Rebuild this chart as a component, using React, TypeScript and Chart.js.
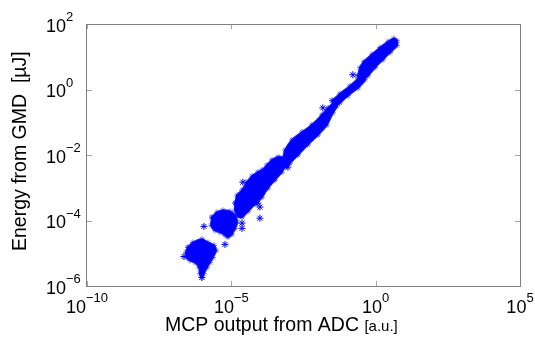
import React, { useEffect, useRef } from "react";
import { Chart, registerables } from "chart.js";

Chart.register(...registerables);

// All point values below are log10(x), log10(y) pairs.
// Dense shot clusters (outlines of the filled regions of asterisks)
const cluster1: [number, number][] = [
  [-6.5, -4.82], [-6.33, -4.67], [-6.02, -4.57], [-5.81, -4.67], [-5.6, -4.76],
  [-5.53, -4.91], [-5.64, -5.13], [-5.74, -5.28], [-5.84, -5.43], [-5.95, -5.62],
  [-6.02, -5.74], [-6.09, -5.62], [-6.12, -5.43], [-6.26, -5.28], [-6.43, -5.22],
  [-6.54, -5.13], [-6.57, -4.97],
];
const cluster2: [number, number][] = [
  [-5.67, -3.9], [-5.5, -3.75], [-5.29, -3.69], [-5.05, -3.72], [-4.87, -3.84],
  [-4.8, -4.05], [-4.87, -4.24], [-4.98, -4.42], [-5.12, -4.51], [-5.22, -4.45],
  [-5.39, -4.36], [-5.57, -4.3], [-5.7, -4.15],
];
const cluster3: [number, number][] = [
  [-4.87, -3.47], [-4.8, -3.23], [-4.63, -3.07], [-4.46, -2.83], [-4.28, -2.64],
  [-4.08, -2.52], [-3.94, -2.46], [-3.77, -2.31], [-3.59, -2.15], [-3.38, -2.06],
  [-3.21, -2.09], [-3.11, -2.25], [-3.25, -2.52], [-3.49, -2.77], [-3.73, -3.01],
  [-3.94, -3.29], [-4.18, -3.5], [-4.42, -3.72], [-4.63, -3.9], [-4.77, -3.87],
  [-4.87, -3.69],
];
const cluster4: [number, number][] = [
  [-3.21, -2.15], [-3.14, -1.85], [-2.9, -1.54], [-2.55, -1.3], [-2.21, -1.08],
  [-1.86, -0.77], [-1.65, -0.56], [-1.44, -0.41], [-1.34, -0.5], [-1.48, -0.71],
  [-1.69, -1.08], [-2.0, -1.39], [-2.35, -1.69], [-2.69, -2.0], [-2.97, -2.25],
  [-3.11, -2.37],
];
const cluster5: [number, number][] = [
  [-1.51, -0.34], [-1.24, -0.13], [-0.89, 0.11], [-0.61, 0.33], [-0.47, 0.42],
  [-0.37, 0.3], [-0.61, 0.05], [-0.96, -0.19], [-1.24, -0.41], [-1.41, -0.5],
];
const cluster6: [number, number][] = [
  [-0.61, 0.42], [-0.54, 0.67], [-0.41, 0.85], [-0.13, 1.07], [0.15, 1.28],
  [0.43, 1.46], [0.63, 1.56], [0.74, 1.49], [0.74, 1.34], [0.5, 1.13],
  [0.25, 0.91], [-0.02, 0.67], [-0.27, 0.42], [-0.47, 0.3],
];
// Isolated shots
const strayShots: [number, number][] = [
  [-6.64, -5.1], [-5.95, -4.18], [-5.22, -4.73], [-4.63, -4.24], [-4.63, -4.08],
  [-4.01, -3.93], [-4.6, -2.83], [-4.08, -3.47], [-4.01, -3.59], [-3.04, -2.37],
  [-1.83, -0.56], [-0.79, 0.45], [-6.02, -5.74],
];

const xTickExps = [-10, -5, 0, 5];
const yTickExps = [-6, -4, -2, 0, 2];
const xTitle = "MCP output from ADC";
const xUnit = "[a.u.]";
const yTitle = "Energy from GMD  [\u00b5J]";

const BLUE = "#0000ff";
const FONT = '"Liberation Sans", Arial, Helvetica, sans-serif';

const toPts = (arr: [number, number][], close = false) => {
  const pts = arr.map(([lx, ly]) => ({ x: Math.pow(10, lx), y: Math.pow(10, ly) }));
  if (close) pts.push({ ...pts[0] });
  return pts;
};

const expStr = (e: number) => (e < 0 ? "\u2212" + Math.abs(e) : String(e));

const axesPlugin = {
  id: "matlabAxes",
  afterDraw(chart: any) {
    const { ctx, chartArea } = chart;
    const xs = chart.scales.x;
    const ys = chart.scales.y;
    const { left, right, top, bottom } = chartArea;
    ctx.save();
    // ticks
    ctx.strokeStyle = "#a8a8a8";
    ctx.lineWidth = 1;
    ctx.beginPath();
    xTickExps.forEach((e) => {
      const px = Math.round(xs.getPixelForValue(Math.pow(10, e))) + 0.5;
      ctx.moveTo(px, bottom);
      ctx.lineTo(px, bottom - 5);
      ctx.moveTo(px, top);
      ctx.lineTo(px, top + 5);
    });
    yTickExps.forEach((e) => {
      const py = Math.round(ys.getPixelForValue(Math.pow(10, e))) + 0.5;
      ctx.moveTo(left, py);
      ctx.lineTo(left + 5, py);
      ctx.moveTo(right, py);
      ctx.lineTo(right - 5, py);
    });
    ctx.stroke();
    // box
    ctx.strokeStyle = "#808080";
    ctx.strokeRect(Math.round(left) - 0.5, Math.round(top) + 0.5, Math.round(right - left) + 1, Math.round(bottom - top));

    // tick labels
    ctx.fillStyle = "#000";
    ctx.textBaseline = "alphabetic";
    ctx.textAlign = "left";
    const big = `18px ${FONT}`;
    const small = `13px ${FONT}`;
    xTickExps.forEach((e) => {
      const px = xs.getPixelForValue(Math.pow(10, e));
      ctx.font = big;
      const w10 = ctx.measureText("10").width;
      ctx.font = small;
      const we = ctx.measureText(expStr(e)).width;
      const x0 = px - (w10 + we) / 2;
      const base = bottom + 26.5;
      ctx.font = big;
      ctx.fillText("10", x0, base);
      ctx.font = small;
      ctx.fillText(expStr(e), x0 + w10, base - 11);
    });
    yTickExps.forEach((e) => {
      const py = ys.getPixelForValue(Math.pow(10, e));
      const x0 = 46;
      const base = py + 7.5;
      ctx.font = big;
      const w10 = ctx.measureText("10").width;
      ctx.fillText("10", x0, base);
      ctx.font = small;
      ctx.fillText(expStr(e), x0 + w10, base - 10.5);
    });

    // axis titles
    ctx.font = `19.5px ${FONT}`;
    const wt = ctx.measureText(xTitle + " ").width;
    ctx.fillText(xTitle + " ", 165, 331);
    ctx.font = `15px ${FONT}`;
    ctx.fillText(xUnit, 165 + wt, 331);

    ctx.font = `19.5px ${FONT}`;
    ctx.translate(25.5, 251);
    ctx.rotate(-Math.PI / 2);
    ctx.fillText(yTitle, 0, 0);
    ctx.restore();
  },
};

export default function App() {
  const ref = useRef<HTMLCanvasElement | null>(null);
  useEffect(() => {
    if (!ref.current) return;
    const clusters = [cluster1, cluster2, cluster3, cluster4, cluster5, cluster6];
    const datasets: any[] = clusters.map((c) => ({
      type: "line",
      data: toPts(c, true),
      borderColor: "rgba(0,0,255,0.85)",
      backgroundColor: BLUE,
      borderWidth: 2,
      fill: "shape",
      tension: 0.35,
      pointStyle: "star",
      pointRadius: 3,
      pointBorderColor: "rgba(0,0,255,0.55)",
      pointBackgroundColor: "rgba(0,0,0,0)",
      pointBorderWidth: 1,
    }));
    datasets.push({
      type: "scatter",
      data: toPts(strayShots),
      showLine: false,
      pointStyle: "star",
      pointRadius: 3.5,
      borderColor: BLUE,
      backgroundColor: BLUE,
      borderWidth: 1,
    });
    const chart = new Chart(ref.current, {
      type: "scatter",
      data: { datasets },
      options: {
        animation: false,
        responsive: false,
        devicePixelRatio: 1,
        layout: { padding: { left: 87, top: 24, right: 15, bottom: 52 } },
        plugins: { legend: { display: false }, tooltip: { enabled: false } },
        scales: {
          x: { type: "logarithmic", min: 1e-10, max: 1e5, display: false },
          y: { type: "logarithmic", min: 1e-6, max: 1e2, display: false },
        },
      } as any,
      plugins: [axesPlugin],
    });
    return () => chart.destroy();
  }, []);
  return (
    <div style={{ position: "fixed", left: 0, top: 0, width: 535, height: 338, background: "#fff" }}>
      <canvas ref={ref} width={535} height={338} style={{ display: "block", width: 535, height: 338 }} />
    </div>
  );
}
